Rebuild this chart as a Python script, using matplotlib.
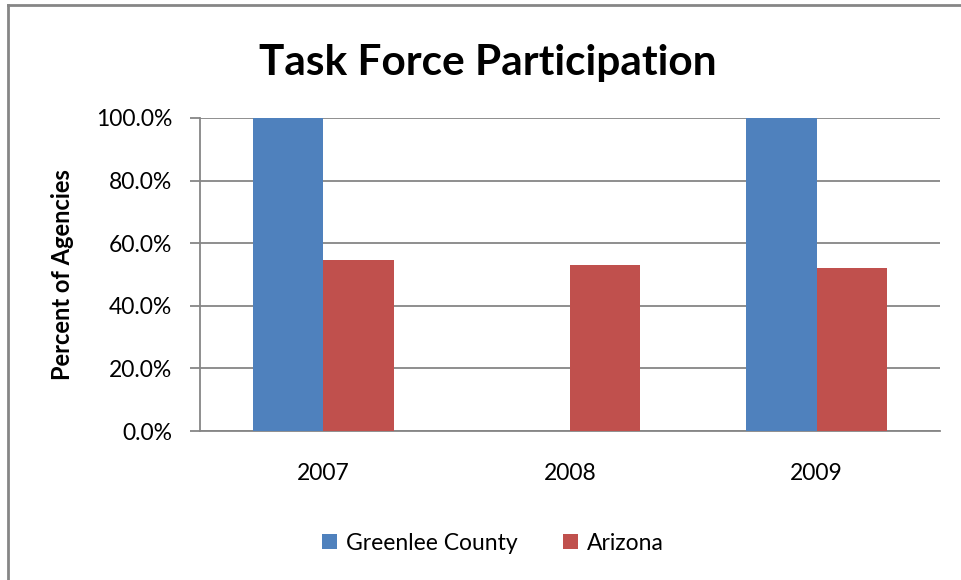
import matplotlib
matplotlib.use("Agg")
import matplotlib.pyplot as plt
import numpy as np
from matplotlib.lines import Line2D

plt.rcParams['font.family'] = ['Lato', 'DejaVu Sans']

# data
years = ['2007', '2008', '2009']
greenlee = [100.0, 0.0, 100.0]
arizona = [54.5, 53.0, 52.0]
yticks = [0, 20, 40, 60, 80, 100]

blue = '#4F81BD'
red = '#C0504D'
gray = '#868686'

W, H = 961, 580
fig = plt.figure(figsize=(W / 100, H / 100), dpi=100)

# axes box in pixels: left 200, right 940, top 118, bottom 431
ax = fig.add_axes([200 / W, (H - 431) / H, 740 / W, (431 - 118) / H])

x = np.arange(len(years))
bw = 1 / 3.5
ax.bar(x - bw / 2, greenlee, bw, color=blue, label='Greenlee County', zorder=3)
ax.bar(x + bw / 2, arizona, bw, color=red, label='Arizona', zorder=3)

ax.set_xlim(-0.5, 2.5)
ax.set_ylim(0, 100)
ax.set_yticks(yticks)
ax.set_yticklabels(['%.1f%%' % v for v in yticks], fontsize=16.5)
ax.set_xticks(x)
ax.set_xticklabels(years, fontsize=16.5)

ax.grid(axis='y', color=gray, linewidth=1.3, zorder=0)
for s in ['top', 'right']:
    ax.spines[s].set_visible(False)
for s in ['left', 'bottom']:
    ax.spines[s].set_color(gray)
    ax.spines[s].set_linewidth(1.3)
ax.tick_params(axis='y', length=7, width=1.3, color=gray, pad=13)
ax.tick_params(axis='x', length=0, pad=23)

ax.set_ylabel('Percent of Agencies', fontsize=17, fontweight='bold')
ax.yaxis.set_label_coords((74 - 200) / 740, 0.5)

fig.text(488 / W, 1 - 75 / H, 'Task Force Participation', fontsize=30.5,
         fontweight='bold', ha='center', va='baseline')

fig.legend(loc='center', bbox_to_anchor=(493 / W, 1 - 543 / H), ncol=2,
           frameon=False, fontsize=16.5, handlelength=0.65, handleheight=0.65,
           columnspacing=2.0, handletextpad=0.4)

# chart area border (only left and top visible in reference)
fig.add_artist(Line2D([8 / W, 8 / W], [0, 1 - 5 / H], color=gray, linewidth=2,
                      transform=fig.transFigure))
fig.add_artist(Line2D([8 / W, 1], [1 - 5 / H, 1 - 5 / H], color=gray, linewidth=2,
                      transform=fig.transFigure))

fig.savefig('out.png', dpi=100)
